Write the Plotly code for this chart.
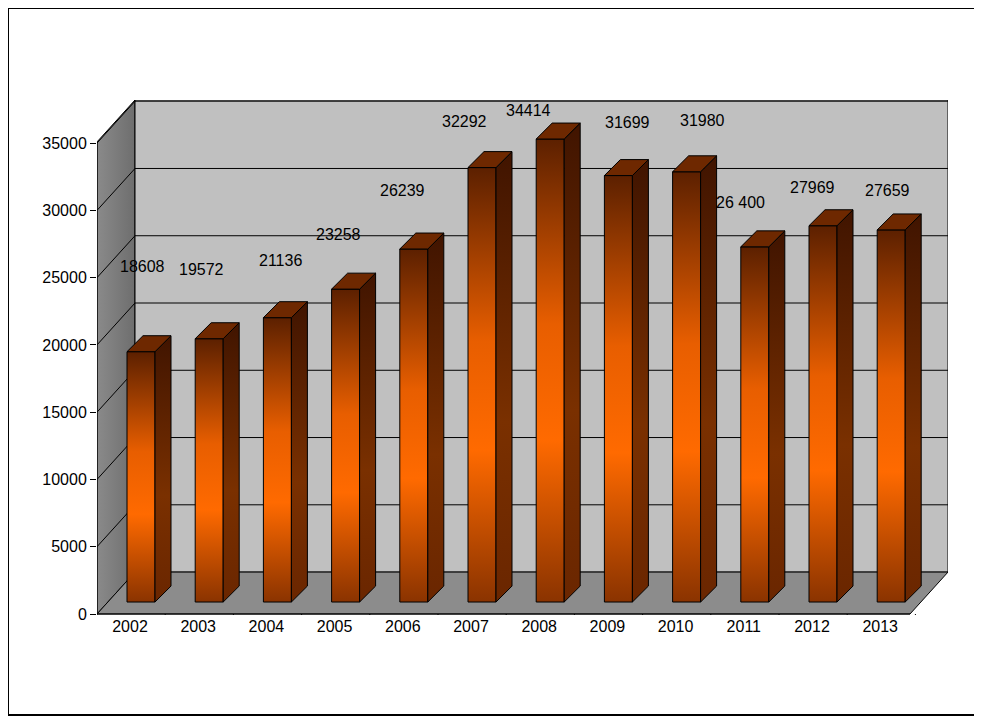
import plotly.graph_objects as go

years = ["2002", "2003", "2004", "2005", "2006", "2007", "2008", "2009", "2010", "2011", "2012", "2013"]
values = [18608, 19572, 21136, 23258, 26239, 32292, 34414, 31699, 31980, 26400, 27969, 27659]
label_text = ["18608", "19572", "21136", "23258", "26239", "32292", "34414", "31699", "31980", "26 400", "27969", "27659"]
y_ticks = [0, 5000, 10000, 15000, 20000, 25000, 30000, 35000]
# label placement (x offset in categories, y in value units), mimicking the original
label_dx = [0.19, 0.05, 0.2, 0.05, 0.0, -0.1, -0.15, 0.3, 0.4, -0.05, 0.0, 0.1]
label_y = [25800, 25600, 26300, 28200, 31500, 36570, 37460, 36500, 36700, 30560, 31670, 31450]

# page body has an 8px margin, so shift everything up/left by it
OFF = 8
W, H = 982 - OFF, 716 - OFF
L, R, T, B = 97 - OFF, 948 - OFF, 100 - OFF, 615 - OFF
PX_PER_UNIT_Y = 67.4 / 5000
X0_PX, X_STEP = 130 - OFF, 68.2
XMIN = (L - X0_PX) / X_STEP
XMAX = (R - X0_PX) / X_STEP
YMAX = (B - T) / PX_PER_UNIT_Y


def dx(px):
    return px / X_STEP


def dy(px):
    return px / PX_PER_UNIT_Y


def X(px):
    return XMIN + (px - L) / X_STEP


def Y(py):
    return (B - py) / PX_PER_UNIT_Y


DEPTH_X, DEPTH_Y = 38, 42
fig = go.Figure()


def poly(xs, ys, color, line="black", grad=None):
    kw = dict(fillgradient=grad) if grad else dict(fillcolor=color)
    fig.add_trace(go.Scatter(x=xs + [xs[0]], y=ys + [ys[0]], mode="lines", fill="toself",
                             line=dict(color=line, width=1), hoverinfo="skip", showlegend=False, **kw))


# walls
poly([X(L), X(L + DEPTH_X), X(L + DEPTH_X), X(L)], [Y(B), Y(B - DEPTH_Y), Y(T), Y(T + DEPTH_Y)], None,
     grad=dict(type="horizontal", colorscale=[[0, "#8a8a8a"], [1, "#6e6e6e"]]))
poly([X(L + DEPTH_X), X(R), X(R), X(L + DEPTH_X)], [Y(B - DEPTH_Y), Y(B - DEPTH_Y), Y(T), Y(T)], "#c0c0c0")
poly([X(L), X(R - DEPTH_X), X(R), X(L + DEPTH_X)], [Y(B), Y(B), Y(B - DEPTH_Y), Y(B - DEPTH_Y)], "#8c8c8c")

# gridlines
for v in y_ticks[1:]:
    yb = v + dy(DEPTH_Y)
    fig.add_trace(go.Scatter(x=[X(L), X(L + DEPTH_X), X(R)], y=[v, yb, yb], mode="lines",
                             line=dict(color="black", width=1), hoverinfo="skip", showlegend=False))

# bars
half_w, shift = dx(14), dx(11)
base = dy(12)
sdx, sdy = dx(16), dy(16)
front_grad = dict(type="vertical", colorscale=[[0, "#8a3300"], [0.35, "#ff6a00"], [0.6, "#e85e00"], [1, "#5c2000"]])
side_grad = dict(type="vertical", colorscale=[[0, "#6a2600"], [0.4, "#7a3000"], [1, "#401400"]])
for i, v in enumerate(values):
    xl, xr = i + shift - half_w, i + shift + half_w
    top = base + v
    poly([xl, xr, xr, xl], [base, base, top, top], None, grad=front_grad)
    poly([xr, xr + sdx, xr + sdx, xr], [base, base + sdy, top + sdy, top], None, grad=side_grad)
    poly([xl, xr, xr + sdx, xl + sdx], [top, top, top + sdy, top + sdy], "#6e2800")
    fig.add_annotation(x=i + label_dx[i], y=label_y[i], text=label_text[i], showarrow=False,
                       font=dict(size=16, color="black"))

# category separator ticks on the front axis
for k in range(13):
    xp = XMIN + k
    fig.add_shape(type="line", x0=xp, x1=xp, y0=0, y1=-dy(6), line=dict(color="black", width=1))

fig.add_shape(type="line", x0=X(L), x1=X(R - DEPTH_X), y0=0, y1=0, line=dict(color="black", width=1))
fig.add_shape(type="line", x0=X(L), x1=X(L), y0=0, y1=Y(T + DEPTH_Y), line=dict(color="black", width=1))
pw, ph = R - L, B - T
fig.add_shape(type="rect", xref="paper", yref="paper", x0=-L / pw, x1=1 + (W - R - 1) / pw,
              y0=-(H - B - 1) / ph, y1=1 + T / ph, line=dict(color="black", width=2))

fig.update_layout(
    width=W, height=H,
    margin=dict(l=L, r=W - R, t=T, b=H - B),
    paper_bgcolor="white", plot_bgcolor="white",
    font=dict(family="Liberation Sans, Arial", size=16, color="black"),
    showlegend=False,
    xaxis=dict(range=[XMIN, XMAX], tickmode="array", tickvals=list(range(12)), ticktext=years,
               showgrid=False, zeroline=False, ticks="", fixedrange=True),
    yaxis=dict(range=[-dy(1), YMAX], tickmode="array", tickvals=y_ticks, ticktext=[str(t) for t in y_ticks],
               showgrid=False, zeroline=False, ticks="outside", ticklen=6, tickcolor="black", fixedrange=True),
)

fig.write_html("out.html")
